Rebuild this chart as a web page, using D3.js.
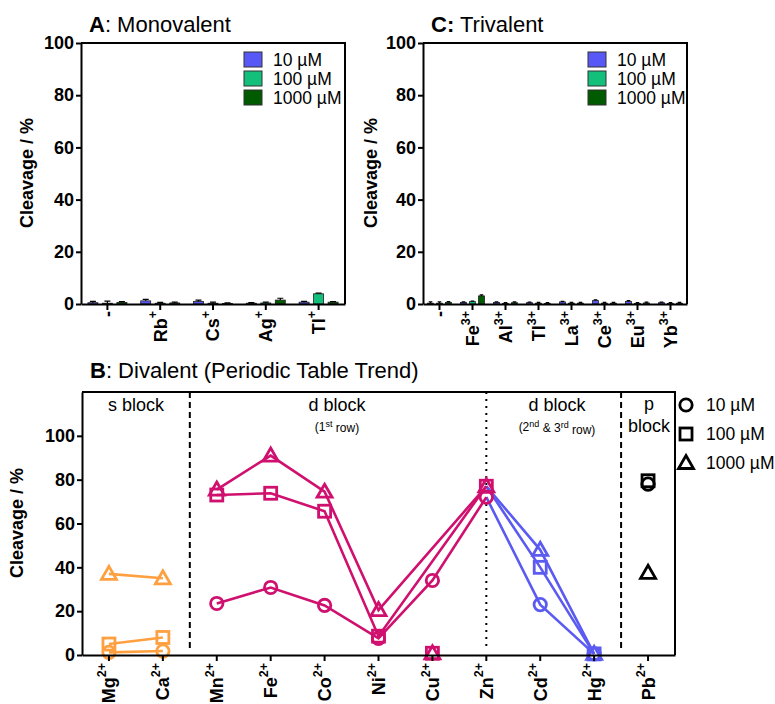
<!DOCTYPE html>
<html><head><meta charset="utf-8">
<script src="https://cdn.jsdelivr.net/npm/d3@7"></script>
<style>body{margin:0;background:#fff} text{font-family:"Liberation Sans",Arial,sans-serif}</style>
</head><body>
<svg id="c" width="775" height="704"></svg>
<script>
// ---------- data ----------
const seriesNames = ["10 µM", "100 µM", "1000 µM"];
const barColors = ["#5858F6", "#12C07C", "#005A00"];

const monoIons = ["-", "Rb", "Cs", "Ag", "Tl"];
const monoCharge = ["", "+", "+", "+", "+"];
const mono10 = [0.5, 1.2, 1.0, 0.3, 0.7];
const mono100 = [0.3, 0.3, 0.3, 0.4, 3.9];
const mono1000 = [0.6, 0.4, 0.2, 1.5, 0.7];
const monoErr10 = [0.5, 0.6, 0.5, 0.2, 0.3];
const monoErr100 = [0.8, 0.3, 0.4, 0.3, 0.3];
const monoErr1000 = [0.3, 0.3, 0.2, 0.7, 0.2];

const triIons = ["-", "Fe", "Al", "Tl", "La", "Ce", "Eu", "Yb"];
const triCharge = ["", "3+", "3+", "3+", "3+", "3+", "3+", "3+"];
const tri10 = [0.3, 0.6, 0.6, 0.5, 0.8, 1.3, 1.0, 0.5];
const tri100 = [0.3, 0.9, 0.2, 0.3, 0.3, 0.3, 0.2, 0.2];
const tri1000 = [0.6, 3.1, 0.5, 0.2, 0.3, 0.3, 0.4, 0.3];
const triErr10 = [0.5, 0.2, 0.2, 0.2, 0.2, 0.3, 0.3, 0.2];
const triErr100 = [0.5, 0.2, 0.3, 0.3, 0.3, 0.3, 0.3, 0.3];
const triErr1000 = [0.3, 0.4, 0.3, 0.3, 0.3, 0.3, 0.3, 0.3];

const divIons = ["Mg", "Ca", "Mn", "Fe", "Co", "Ni", "Cu", "Zn", "Cd", "Hg", "Pb"];
const div10 = [1.2, 1.8, 23.5, 30.8, 22.6, 7.6, 34, 72, 23, 0.5, 78];
const div100 = [5, 8, 73, 73.8, 65.6, 8.6, 0.8, 77, 40, 0.5, 79.5];
const div1000 = [37, 35, 75.5, 91, 74.5, 20.5, 0.8, 77, 48, 0.5, 37.5];
const divBlock = ["s", "s", "d1", "d1", "d1", "d1", "d1", "d1", "d2", "d2", "p"];
const blockColors = { s: "#FFA040", d1: "#D0106E", d2: "#5B5BF2", p: "#000000" };
const lineGroups = [
  { block: "s", ions: ["Mg", "Ca"] },
  { block: "d2", ions: ["Zn", "Cd", "Hg"] },
  { block: "d1", ions: ["Mn", "Fe", "Co", "Ni", "Cu", "Zn"] }
];
const unlinked = [[], ["Cu"], ["Cu"]];   // per series: points not joined by the line
const yTicks = [0, 20, 40, 60, 80, 100];

// ---------- drawing ----------
const svg = d3.select("#c");
const FONT = '"Liberation Sans",Arial,sans-serif';

function styleAxis(g) {
  g.selectAll("path,line").attr("stroke", "#000").attr("stroke-width", 2);
  g.selectAll("text").attr("font-family", FONT).attr("font-size", 18).attr("font-weight", "bold").attr("fill", "#000");
}

function title(x, y, bold, rest) {
  const t = svg.append("text").attr("x", x).attr("y", y).attr("font-size", 22);
  t.append("tspan").attr("font-weight", "bold").text(bold);
  t.append("tspan").text(rest);
}

function yLabel(x, y) {
  svg.append("text").attr("transform", `translate(${x},${y}) rotate(-90)`)
    .attr("text-anchor", "middle").attr("font-size", 18).attr("font-weight", "bold")
    .text("Cleavage / %");
}

function xLabels(x, ions, charges, yStart) {
  ions.forEach((ion, i) => {
    const cx = x(ion) + x.bandwidth() / 2;
    const t = svg.append("text")
      .attr("transform", `translate(${cx},${yStart}) rotate(-90)`)
      .attr("text-anchor", "end").attr("dy", "0.36em")
      .attr("font-size", 18).attr("font-weight", "bold");
    t.append("tspan").text(ion);
    if (charges[i]) t.append("tspan").attr("font-size", 12.5).attr("dy", "-0.75em").text(charges[i]);
  });
}

function barPanel(o) {
  const x = d3.scaleBand().domain(o.ions).range([o.x0, o.x1]);
  const y = d3.scaleLinear().domain([0, 100]).range([o.yb, o.yt]);
  const xs = d3.scaleBand().domain(seriesNames).range([0, x.bandwidth()])
    .paddingInner(o.pIn).paddingOuter(o.pOut);
  svg.append("path").attr("d", `M${o.x0},${o.yt}H${o.x1}V${o.yb}`)
    .attr("fill", "none").attr("stroke", "#000").attr("stroke-width", 2);
  o.vals.forEach((arr, s) => {
    arr.forEach((v, i) => {
      const bx = x(o.ions[i]) + xs(seriesNames[s]);
      const bw = xs.bandwidth();
      svg.append("rect").attr("x", bx).attr("y", y(v)).attr("width", bw)
        .attr("height", y(0) - y(v)).attr("fill", barColors[s])
        .attr("stroke", "#222").attr("stroke-width", 0.8);
      const e = o.errs[s][i];
      const cx = bx + bw / 2;
      svg.append("path").attr("d", `M${cx},${y(v)}V${y(v + e)}M${cx - bw * 0.3},${y(v + e)}H${cx + bw * 0.3}`)
        .attr("stroke", "#000").attr("stroke-width", 1.2).attr("fill", "none");
    });
  });
  svg.append("g").attr("transform", `translate(${o.x0},0)`)
    .call(d3.axisLeft(y).tickValues(yTicks).tickSize(5).tickSizeOuter(0).tickPadding(2)).call(styleAxis);
  svg.append("g").attr("transform", `translate(0,${o.yb})`)
    .call(d3.axisBottom(x).tickSize(6).tickSizeOuter(0).tickFormat("")).call(styleAxis);
  xLabels(x, o.ions, o.charges, o.yb + 7);
  seriesNames.forEach((n, s) => {
    svg.append("rect").attr("x", o.lx).attr("y", 52 + s * 19).attr("width", 18).attr("height", 15)
      .attr("fill", barColors[s]).attr("stroke", "#333").attr("stroke-width", 1);
    svg.append("text").attr("x", o.lx + 29).attr("y", 66 + s * 19).attr("font-size", 17.5).text(n);
  });
}

// Panel A
title(89, 32, "A", ": Monovalent");
yLabel(33, 173);
barPanel({ ions: monoIons, charges: monoCharge, vals: [mono10, mono100, mono1000],
  errs: [monoErr10, monoErr100, monoErr1000], x0: 81, x1: 345, yt: 43, yb: 304,
  pIn: 0.31, pOut: 0.475, lx: 244 });

// Panel C
title(431, 32, "C:", " Trivalent");
yLabel(377, 173);
barPanel({ ions: triIons, charges: triCharge, vals: [tri10, tri100, tri1000],
  errs: [triErr10, triErr100, triErr1000], x0: 423, x1: 687, yt: 43, yb: 304,
  pIn: 0.33, pOut: 0.5, lx: 588 });

// Panel B
title(90, 378, "B", ": Divalent (Periodic Table Trend)");
yLabel(23, 523);
const bx0 = 82, bx1 = 675, byt = 392, byb = 655;
const xb = d3.scaleBand().domain(divIons).range([bx0, bx1]);
const yb = d3.scaleLinear().domain([0, 120]).range([byb, byt]);
const cxB = ion => xb(ion) + xb.bandwidth() / 2;
svg.append("path").attr("d", `M${bx0},${byt}H${bx1}V${byb}`)
  .attr("fill", "none").attr("stroke", "#000").attr("stroke-width", 2);

const sep1 = xb("Mn"), sep2 = xb("Pb");
[sep1, sep2].forEach(sx => svg.append("line").attr("x1", sx).attr("x2", sx).attr("y1", byt).attr("y2", byb - 7)
  .attr("stroke", "#000").attr("stroke-width", 2).attr("stroke-dasharray", "6,4"));
svg.append("line").attr("x1", cxB("Zn")).attr("x2", cxB("Zn")).attr("y1", byt).attr("y2", byb - 7)
  .attr("stroke", "#000").attr("stroke-width", 2).attr("stroke-dasharray", "2,5");

const blk = (x, y, s, fs) => svg.append("text").attr("x", x).attr("y", y).attr("text-anchor", "middle").attr("font-size", fs).text(s);
blk((bx0 + sep1) / 2, 411, "s block", 18);
blk(337, 411, "d block", 18);
const r1 = blk(337, 431, "(1", 12);
r1.append("tspan").attr("font-size", 9).attr("dy", "-0.45em").text("st");
r1.append("tspan").attr("dy", "0.45em").text(" row)");
blk(557, 411, "d block", 18);
const r2 = blk(557, 431, "(2", 12);
r2.append("tspan").attr("font-size", 9).attr("dy", "-0.45em").text("nd");
r2.append("tspan").attr("dy", "0.45em").text(" & 3");
r2.append("tspan").attr("font-size", 9).attr("dy", "-0.45em").text("rd");
r2.append("tspan").attr("dy", "0.45em").text(" row)");
blk(649, 410, "p", 18);
blk(649, 432, "block", 18);

const divSeries = [div10, div100, div1000];
const line = d3.line().x(d => cxB(d.ion)).y(d => yb(d.v));
lineGroups.forEach(g => {
  divSeries.forEach((arr, s) => {
    const pts = g.ions.filter(ion => !unlinked[s].includes(ion))
      .map(ion => ({ ion, v: arr[divIons.indexOf(ion)] }));
    svg.append("path").attr("d", line(pts)).attr("fill", "none")
      .attr("stroke", blockColors[g.block]).attr("stroke-width", 2.6);
  });
});

function marker(sel, s, x, y, color) {
  const common = m => m.attr("fill", "none").attr("stroke", color).attr("stroke-width", 2.8);
  if (s === 0) common(sel.append("circle").attr("cx", x).attr("cy", y).attr("r", 6.2));
  else if (s === 1) common(sel.append("rect").attr("x", x - 6).attr("y", y - 6).attr("width", 12).attr("height", 12));
  else common(sel.append("path").attr("d", `M${x},${y - 7.5}L${x + 7.5},${y + 5.5}L${x - 7.5},${y + 5.5}Z`));
}
divSeries.forEach((arr, s) => {
  arr.forEach((v, i) => marker(svg, s, cxB(divIons[i]), yb(v), blockColors[divBlock[i]]));
});

svg.append("g").attr("transform", `translate(${bx0},0)`)
  .call(d3.axisLeft(yb).tickValues(yTicks).tickSize(5).tickSizeOuter(0).tickPadding(2)).call(styleAxis);
svg.append("g").attr("transform", `translate(0,${byb})`)
  .call(d3.axisBottom(xb).tickSize(6).tickSizeOuter(0).tickFormat("")).call(styleAxis);
xLabels(xb, divIons, divIons.map(() => "2+"), byb + 8);

seriesNames.forEach((n, s) => {
  marker(svg, s, 686, 405 + s * 29, "#000");
  svg.append("text").attr("x", 706).attr("y", 411 + s * 29).attr("font-size", 17.5).text(n);
});
</script>
</body></html>
